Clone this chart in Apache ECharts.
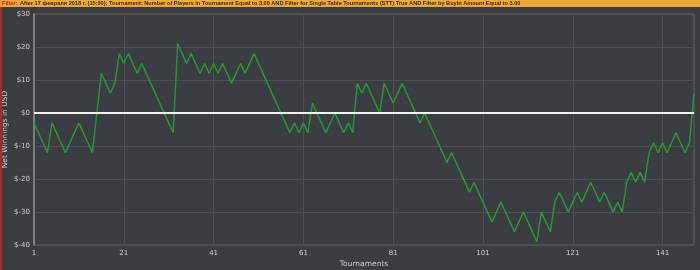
<!DOCTYPE html>
<html><head><meta charset="utf-8">
<script src="https://cdn.jsdelivr.net/npm/echarts@6/dist/echarts.min.js"></script>
<style>html,body{margin:0;padding:0;background:#3a3d42;}#c{width:700px;height:270px;}</style>
</head><body><div id="c"></div>
<script>
var filterLabel = 'Filter:';
var filterText = 'After 17 февраля 2018 г. (15:00); Tournament: Number of Players in Tournament Equal to 3.00 AND Filter for Single Table Tournaments (STT) True AND Filter by Buyin Amount Equal to 3.00';
var yAxisTitle = 'Net Winnings in USD';
var xAxisTitle = 'Tournaments';
var netWinnings = [
  -3,-6,-9,-12,-3,-6,-9,-12,-9,-6,
  -3,-6,-9,-12,0,12,9,6,9,18,
  15,18,15,12,15,12,9,6,3,0,
  -3,-6,21,18,15,18,15,12,15,12,
  15,12,15,12,9,12,15,12,15,18,
  15,12,9,6,3,0,-3,-6,-3,-6,
  -3,-6,3,0,-3,-6,-3,0,-3,-6,
  -3,-6,9,6,9,6,3,0,9,6,
  3,6,9,6,3,0,-3,0,-3,-6,
  -9,-12,-15,-12,-15,-18,-21,-24,-21,-24,
  -27,-30,-33,-30,-27,-30,-33,-36,-33,-30,
  -33,-36,-39,-30,-33,-36,-27,-24,-27,-30,
  -27,-24,-27,-24,-21,-24,-27,-24,-27,-30,
  -27,-30,-21,-18,-21,-18,-21,-12,-9,-12,
  -9,-12,-9,-6,-9,-12,-9,6
];
var tournaments = netWinnings.map(function(_, i){ return String(i + 1); });

var chart = echarts.init(document.getElementById('c'), null, {renderer:'canvas'});
chart.setOption({
  animation: false,
  backgroundColor: '#3a3d42',
  graphic: [
    {type:'rect', left:0, top:0, shape:{width:700, height:7}, style:{fill:'#f2a93b'}, z:10},
    {type:'rect', left:0, top:7, shape:{width:2, height:263}, style:{fill:'#b3261e'}, z:10},
    {type:'text', left:2, top:0, z:11, style:{text:filterLabel, fill:'#c0231a', font:'bold 5.6px "Liberation Sans"'}},
    {type:'text', left:20, top:0, z:11, style:{text:filterText, fill:'#3a2a10', font:'bold 5.6px "Liberation Sans"'}}
  ],
  grid: {left:34, right:6, top:14, bottom:25, containLabel:false, outerBoundsMode:'none', show:true, borderColor:'#5c5f64', borderWidth:1},
  xAxis: {
    type:'category', data: tournaments, boundaryGap:false,
    name: xAxisTitle, nameLocation:'middle', nameGap:15, nameMoveOverlap:false,
    nameTextStyle:{color:'#d0d0d0', fontSize:7.5, fontFamily:'DejaVu Sans'},
    axisLine:{lineStyle:{color:'#7a7d82', width:2}},
    axisTick:{show:false},
    axisLabel:{interval:19, color:'#d0d0d0', fontSize:7, fontFamily:'DejaVu Sans', margin:5},
    splitLine:{show:true, interval:19, lineStyle:{color:'#4c4f54', width:1}}
  },
  yAxis: {
    type:'value', min:-40, max:30, interval:10,
    name: yAxisTitle, nameLocation:'middle', nameGap:25, nameRotate:90, nameMoveOverlap:false,
    nameTextStyle:{color:'#d0d0d0', fontSize:7.5, fontFamily:'DejaVu Sans'},
    axisLine:{show:true, lineStyle:{color:'#7a7d82', width:2}},
    axisTick:{show:false},
    axisLabel:{color:'#d0d0d0', fontSize:7, fontFamily:'DejaVu Sans', margin:4, formatter:function(v){return '$' + v;}},
    splitLine:{show:true, lineStyle:{color:'#4c4f54', width:1}}
  },
  series: [{
    type:'line', data: netWinnings, symbol:'none', smooth:false,
    lineStyle:{color:'#2c9338', width:1.5},
    markLine:{silent:true, symbol:'none', label:{show:false},
      lineStyle:{color:'#f2f2f2', width:2, type:'solid'},
      data:[{yAxis:0}]}
  }]
});
</script></body></html>
